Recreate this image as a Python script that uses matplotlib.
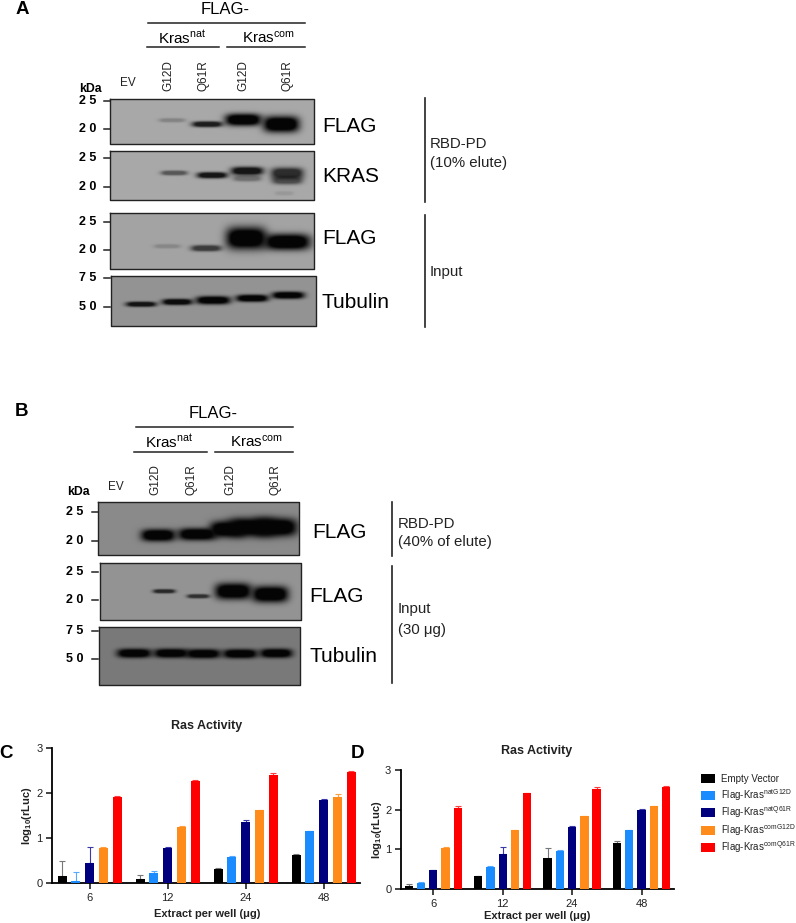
"""Kras western blots (A, B) and Ras activity bar charts (C, D).
Output: out.png
"""

import numpy as np
import matplotlib
matplotlib.use('Agg')
import matplotlib.pyplot as plt
from matplotlib.patches import Rectangle

plt.rcParams['font.family'] = ['Liberation Sans', 'DejaVu Sans']
plt.rcParams['mathtext.fontset'] = 'custom'
plt.rcParams['mathtext.rm'] = 'Liberation Sans'
plt.rcParams['mathtext.bf'] = 'Liberation Sans:bold'
plt.rcParams['mathtext.it'] = 'Liberation Sans:italic'

# bar charts: means and upper error bar ends
DOSES = ['6', '12', '24', '48']
SERIES = ['Empty Vector', 'Flag-Kras$^{\\mathrm{natG12D}}$', 'Flag-Kras$^{\\mathrm{natQ61R}}$',
          'Flag-Kras$^{\\mathrm{comG12D}}$', 'Flag-Kras$^{\\mathrm{comQ61R}}$']
COLORS = ['#000000', '#1a8cff', '#00007f', '#ff8c1a', '#ff0000']
ERR_COLORS = ['#777777', '#55aaff', '#3a3aa8', '#ffa040', '#ff4040']

C_MEAN = [[0.15, 0.08, 0.32, 0.63],
          [0.04, 0.22, 0.57, 1.15],
          [0.45, 0.78, 1.36, 1.85],
          [0.78, 1.25, 1.62, 1.92],
          [1.91, 2.27, 2.41, 2.47]]
C_TOP = [[0.50, 0.17, 0.34, 0.64],
         [0.24, 0.26, 0.59, 1.16],
         [0.81, 0.79, 1.40, 1.86],
         [0.81, 1.27, 1.63, 1.98],
         [1.94, 2.29, 2.44, 2.48]]
D_MEAN = [[0.07, 0.32, 0.78, 1.15],
          [0.15, 0.55, 0.97, 1.48],
          [0.47, 0.89, 1.57, 2.00],
          [1.04, 1.49, 1.83, 2.08],
          [2.04, 2.42, 2.51, 2.57]]
D_TOP = [[0.12, 0.33, 1.03, 1.20],
         [0.17, 0.57, 0.98, 1.49],
         [0.49, 1.07, 1.58, 2.01],
         [1.05, 1.50, 1.84, 2.09],
         [2.08, 2.43, 2.56, 2.59]]

# blot bands: (x, y, half width, half height, darkness)
A1_BANDS = [(172, 120, 13, 2, 0.22), (207, 124, 15, 2.8, 0.85),
            (243, 119.5, 18, 6, 1.0), (281, 124, 18, 8, 1.0)]
A2_BANDS = [(174, 172.7, 13, 2.3, 0.5), (212, 175, 15, 3, 0.9),
            (247, 170.7, 16, 4, 0.9), (247, 178, 14, 3, 0.35),
            (287, 173, 16, 5.5, 0.75), (287, 180, 15, 4, 0.55), (284, 193, 9, 2, 0.1)]
A3_BANDS = [(167, 246, 13, 2, 0.18), (206, 248, 15, 3, 0.65),
            (246, 238, 20, 11, 1.0), (287, 241.7, 23, 8, 1.0)]
A4_BANDS = [(141, 304, 15, 2.5, 0.9), (177, 301.7, 15, 3, 0.95), (213, 300, 17, 4, 1.0),
            (252, 298, 16, 3.5, 1.0), (288, 295, 16, 3.5, 1.0)]
B1_BANDS = [(158, 535, 17, 6, 1.0), (197, 534, 19, 6, 1.0),
            (228, 529, 18, 8, 1.0), (252, 527, 24, 9, 1.0), (275, 527, 22, 9, 1.0)]
B2_BANDS = [(164, 591, 11, 2, 0.75), (198, 596, 11, 2, 0.7),
            (233, 591, 18, 8, 1.0), (270, 594, 18, 8, 1.0)]
B3_BANDS = [(134, 653, 17, 4.5, 1.0), (171, 653, 17, 4.5, 1.0), (203, 653.5, 17, 4.5, 1.0),
            (240, 653.5, 17, 4.5, 1.0), (276, 653, 16, 4.5, 1.0)]

# (left, right, top, bottom, background grey, bands)
BLOTS = [(110, 314, 99, 144, 0.64, A1_BANDS),
         (110, 314, 151, 200, 0.64, A2_BANDS),
         (110, 314, 213, 269, 0.62, A3_BANDS),
         (111, 316, 276, 326, 0.56, A4_BANDS),
         (98, 299, 502, 555, 0.52, B1_BANDS),
         (100, 301, 563, 620, 0.56, B2_BANDS),
         (99, 300, 627, 685, 0.46, B3_BANDS)]

# kDa markers: (label, y)
A_MARKERS = [('2 5', 100.7), ('2 0', 129), ('2 5', 158), ('2 0', 187),
             ('2 5', 221.7), ('2 0', 250), ('7 5', 278), ('5 0', 306.7)]
B_MARKERS = [('2 5', 512), ('2 0', 540.7), ('2 5', 572), ('2 0', 600),
             ('7 5', 630.7), ('5 0', 659)]
LANES = ['G12D', 'Q61R', 'G12D', 'Q61R']
A_LANE_X = [168, 204, 243, 287]
B_LANE_X = [155, 192, 230, 275]


def draw_blot(ax, left, right, top, bottom, grey, bands):
    """Soft dark bands on a grey film, with a dark frame."""
    xx, yy = np.meshgrid(np.arange(left, right, 0.5), np.arange(top, bottom, 0.5))
    keep = np.ones_like(xx)
    for x, y, w, h, dark in bands:
        g = np.clip(1.4 * np.exp(-np.abs((xx - x) / w) ** 4 - np.abs((yy - y) / h) ** 2.5), 0, 1)
        keep *= 1 - dark * g
    img = grey * keep + 0.02
    ax.imshow(img, extent=(left, right, bottom, top), cmap='gray', vmin=0, vmax=1,
              aspect='auto', interpolation='bilinear', zorder=1)
    ax.plot([left, right, right, left, left], [top, top, bottom, bottom, top],
            color='#222222', lw=1.0, zorder=2)


def hline(ax, x0, x1, y, lw=1.1):
    ax.plot([x0, x1], [y, y], color='#222222', lw=lw)


def draw_header(ax, cx, y_title, line_top, nat, com, y_kras, line_kras, lane_x, y_lane, ev, kda):
    ax.text(cx, y_title, 'FLAG-', fontsize=12, ha='center', va='center')
    hline(ax, line_top[0], line_top[1], line_top[2])
    ax.text(nat[0], y_kras, 'Kras$^{\\mathrm{nat}}$', fontsize=11, ha='center', va='center')
    ax.text(com[0], y_kras, 'Kras$^{\\mathrm{com}}$', fontsize=11, ha='center', va='center')
    hline(ax, nat[1], nat[2], line_kras)
    hline(ax, com[1], com[2], line_kras)
    for x, lab in zip(lane_x, LANES):
        ax.text(x, y_lane, lab, fontsize=8.5, rotation=90, ha='center', va='bottom', color='#222222')
    ax.text(ev[0], ev[1], 'EV', fontsize=8.5, ha='center', va='center', color='#222222')
    ax.text(kda[0], kda[1], 'kDa', fontsize=8.8, fontweight='bold', ha='center', va='center')


def draw_bars(ax, means, tops, bar_step, bar_width):
    for i, (m, t) in enumerate(zip(means, tops)):
        x = np.arange(len(DOSES)) + (i - 2) * bar_step
        m, t = np.array(m), np.array(t)
        ax.errorbar(x, m, yerr=[np.zeros(len(m)), t - m], fmt='none', ecolor=ERR_COLORS[i],
                    elinewidth=0.8, capsize=2.2, capthick=0.8, zorder=2)
        ax.bar(x, m, width=bar_width, color=COLORS[i], zorder=3)
    ax.set_ylim(0, 3)
    ax.set_yticks([0, 1, 2, 3])
    ax.set_xticks(np.arange(len(DOSES)))
    ax.set_xticklabels(DOSES)
    ax.tick_params(axis='both', labelsize=8, width=1.2, length=4, pad=3, colors='#222222')
    for side in ['top', 'right']:
        ax.spines[side].set_visible(False)
    for side in ['left', 'bottom']:
        ax.spines[side].set_linewidth(1.3)
    ax.patch.set_alpha(0)


def main():
    fig = plt.figure(figsize=(7.96, 9.23), dpi=100)
    bg = fig.add_axes([0, 0, 1, 1])

    for left, right, top, bottom, grey, bands in BLOTS:
        draw_blot(bg, left, right, top, bottom, grey, bands)

    draw_header(bg, 225, 9, (148, 305, 23), (182, 147, 219), (269, 227, 305), 38, 47,
                A_LANE_X, 91, (128, 83), (90, 89))
    draw_header(bg, 213, 413, (136, 293, 427), (169, 134, 207), (257, 215, 293), 442, 452,
                B_LANE_X, 495, (116, 487), (78, 492))

    for lab, y in A_MARKERS:
        bg.text(88, y, lab, fontsize=9, fontweight='bold', ha='center', va='center')
        hline(bg, 104, 110, y)
    for lab, y in B_MARKERS:
        bg.text(75, y, lab, fontsize=9, fontweight='bold', ha='center', va='center')
        hline(bg, 91.5, 98, y)

    for x, y, lab in [(322, 127, 'FLAG'), (322, 177, 'KRAS'), (322, 238, 'FLAG'), (321, 302, 'Tubulin'),
                      (312, 532, 'FLAG'), (309, 597, 'FLAG'), (309, 657, 'Tubulin')]:
        bg.text(x, y, lab, fontsize=15, ha='left', va='center')

    for x, y0, y1 in [(425, 98, 202), (425, 215, 327), (392, 502, 556), (392, 566, 683)]:
        bg.plot([x, x], [y0, y1], color='#222222', lw=1.2)

    for x, y, lab in [(430, 144, 'RBD-PD'), (430, 163, '(10% elute)'), (430, 272, 'Input'),
                      (398, 524, 'RBD-PD'), (398, 542, '(40% of elute)'),
                      (398, 609, 'Input'), (398, 630, '(30 μg)')]:
        bg.text(x, y, lab, fontsize=10.8, ha='left', va='center', color='#222222')

    for x, y, lab in [(22, 10, 'A'), (22, 412, 'B'), (6, 753, 'C'), (358, 753, 'D')]:
        bg.text(x, y, lab, fontsize=13.5, fontweight='bold', ha='center', va='center')

    for cx, y, lab in [(207, 726, 'Ras Activity'), (537, 751, 'Ras Activity')]:
        bg.text(cx, y, lab, fontsize=9, fontweight='bold', ha='center', va='center', color='#222222')
    for cx, y in [(207, 914), (537, 916)]:
        bg.text(cx, y, 'Extract per well (μg)', fontsize=8, fontweight='bold', ha='center',
                va='center', color='#222222')
    for x, y in [(27, 816), (377, 830)]:
        bg.text(x, y, 'log$_{\\mathbf{10}}$(rLuc)', fontsize=8, fontweight='bold', rotation=90,
                ha='center', va='center', color='#222222')

    # legend rows beside panel D
    for i, lab in enumerate(SERIES):
        y = 778 + 17.4 * i
        bg.add_patch(Rectangle((700.7, y - 4.5), 14.3, 9, color=COLORS[i], lw=0))
        bg.text(721, y + 3.5, lab, fontsize=7, ha='left', va='baseline', color='#222222')

    bg.set_xlim(0, 796)
    bg.set_ylim(923, 0)
    bg.axis('off')

    # C: axis from x=52.5 to 360 px, y=3 at 748 px, y=0 at 883 px
    ax_c = fig.add_axes([52.5 / 796, 1 - 883 / 923, (360 - 52.5) / 796, 135 / 923])
    draw_bars(ax_c, C_MEAN, C_TOP, 13.8 / 78, 9 / 78)
    ax_c.set_xlim((52.5 - 89.7) / 78, (360 - 89.7) / 78)

    # D: axis from x=401 to 674 px, y=3 at 770 px, y=0 at 889 px
    ax_d = fig.add_axes([401 / 796, 1 - 889 / 923, (674 - 401) / 796, 119 / 923])
    draw_bars(ax_d, D_MEAN, D_TOP, 12.27 / 69.4, 8.3 / 69.4)
    ax_d.set_xlim((401 - 433.3) / 69.4, (674 - 433.3) / 69.4)

    fig.savefig('out.png', dpi=100)
    plt.close(fig)


if __name__ == '__main__':
    main()
